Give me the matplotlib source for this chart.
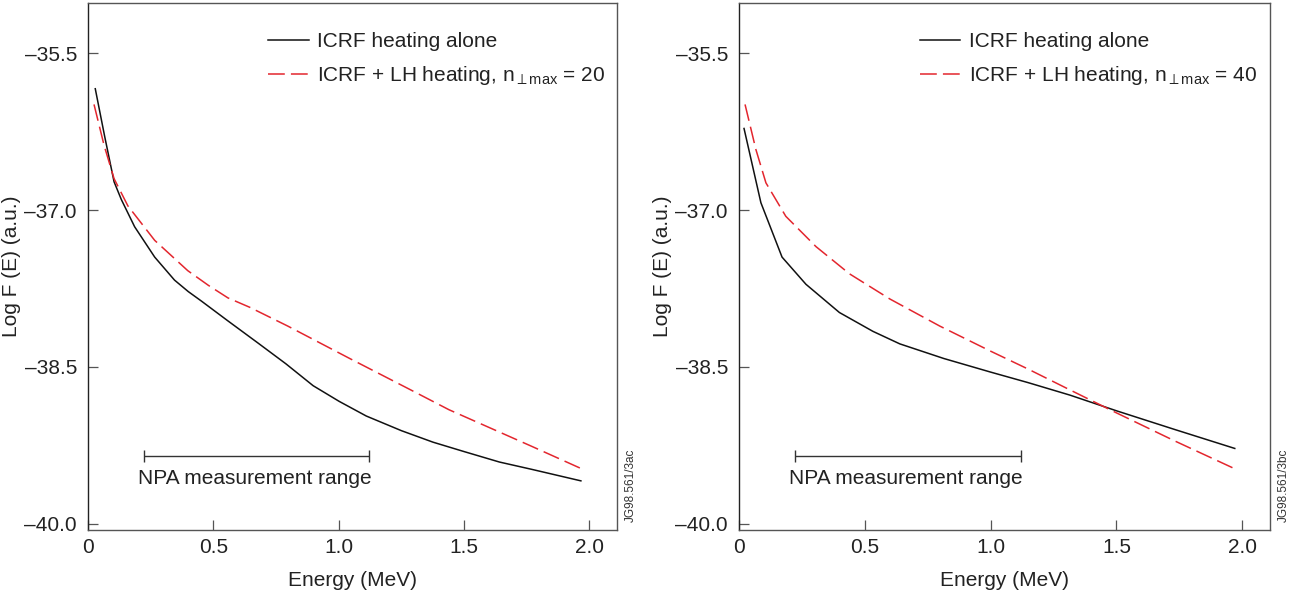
import numpy as np
import matplotlib
matplotlib.use("Agg")
import matplotlib.pyplot as plt

plt.rcParams['font.family'] = ['Liberation Sans', 'DejaVu Sans']
plt.rcParams['mathtext.fontset'] = 'custom'
plt.rcParams['mathtext.rm'] = 'Liberation Sans'
plt.rcParams['mathtext.it'] = 'Liberation Sans:italic'

# Panel (a): n_perp max = 20
E_icrf_a = [0.029, 0.066, 0.104, 0.133, 0.186, 0.266, 0.345, 0.40, 0.452, 0.558, 0.677, 0.789,
            0.898, 1.002, 1.11, 1.25, 1.376, 1.5, 1.641, 1.77, 1.966]
F_icrf_a = [-35.84, -36.29, -36.73, -36.90, -37.16, -37.45, -37.67, -37.78, -37.87, -38.06,
            -38.27, -38.47, -38.68, -38.83, -38.97, -39.11, -39.22, -39.31, -39.41, -39.48,
            -39.59]
E_lh_a = [0.024, 0.064, 0.104, 0.159, 0.266, 0.398, 0.48, 0.558, 0.645, 0.797, 1.044, 1.279,
          1.44, 1.77, 1.974]
F_lh_a = [-35.99, -36.38, -36.70, -36.96, -37.29, -37.58, -37.72, -37.84, -37.93, -38.11,
          -38.42, -38.71, -38.91, -39.26, -39.48]

# Panel (b): n_perp max = 40
E_icrf_b = [0.02, 0.087, 0.171, 0.266, 0.399, 0.532, 0.639, 0.814, 1.0, 1.148, 1.315,
            1.5, 1.733, 1.97]
F_icrf_b = [-36.22, -36.93, -37.45, -37.71, -37.98, -38.16, -38.28, -38.42, -38.55, -38.65,
            -38.77, -38.92, -39.10, -39.28]
E_lh_b = [0.024, 0.067, 0.107, 0.186, 0.306, 0.439, 0.599, 0.798, 1.0, 1.148, 1.315,
          1.5, 1.733, 1.975]
F_lh_b = [-35.99, -36.42, -36.74, -37.06, -37.35, -37.61, -37.85, -38.11, -38.35, -38.52,
          -38.72, -38.94, -39.21, -39.48]

npa_range = [0.222, 1.12]
npa_level = -39.35

x_ticks = [0, 0.5, 1.0, 1.5, 2.0]
x_ticklabels = ["0", "0.5", "1.0", "1.5", "2.0"]
y_ticks = [-35.5, -37.0, -38.5, -40.0]
y_ticklabels = ["\u201335.5", "\u201337.0", "\u201338.5", "\u201340.0"]

panels = [
    (E_icrf_a, F_icrf_a, E_lh_a, F_lh_a, "20", "JG98.561/3ac"),
    (E_icrf_b, F_icrf_b, E_lh_b, F_lh_b, "40", "JG98.561/3bc"),
]

red = '#e3262e'
fs = 15
fig = plt.figure(figsize=(13.05, 5.95), dpi=100)
lefts = [88 / 1305, 739 / 1305]
widths = [529 / 1305, 531 / 1305]

for i, (e1, f1, e2, f2, nmax, tag) in enumerate(panels):
    ax = fig.add_axes([lefts[i], 65 / 595, widths[i], 527 / 595])
    ax.plot(e1, f1, color='#111111', lw=1.1, label="ICRF heating alone")
    ax.plot(e2, f2, color=red, lw=1.1, dashes=(11, 4),
            label=r"ICRF + LH heating, n$_{{\perp}\mathrm{max}}$ = " + nmax)

    # NPA measurement range bar
    mid = np.mean(npa_range)
    ax.errorbar([mid], [npa_level], xerr=[[mid - npa_range[0]], [npa_range[1] - mid]],
                fmt='none', ecolor='#333333', elinewidth=1.0, capsize=4, capthick=1.0)
    ax.text(0.2, npa_level - 0.215, "NPA measurement range", fontsize=fs,
            ha='left', va='center', color='#222222')

    ax.set_xlim(0, 2.11)
    ax.set_ylim(-40.06, -35.02)
    ax.set_xticks(x_ticks)
    ax.set_xticklabels(x_ticklabels)
    ax.set_yticks(y_ticks)
    ax.set_yticklabels(y_ticklabels)
    ax.tick_params(direction='in', length=7, width=0.9, labelsize=fs, colors='#555555',
                   labelcolor='#222222')
    ax.tick_params(axis='x', pad=6)
    ax.tick_params(axis='y', pad=8)
    for s in ax.spines.values():
        s.set_color('#555555')
        s.set_linewidth(1.0)
    ax.spines['left'].set_color('#222222')
    ax.set_xlabel("Energy (MeV)", fontsize=fs, labelpad=10, color='#222222')
    ax.set_ylabel("Log F (E) (a.u.)", fontsize=fs, labelpad=2, color='#222222')

    leg = ax.legend(loc='upper left', bbox_to_anchor=(0.321, 0.965), frameon=False,
                    fontsize=fs, handlelength=1.95, handletextpad=0.4, labelspacing=0.65,
                    borderpad=0)
    for t in leg.get_texts():
        t.set_color('#222222')

    ax.text(1.014, 0.015, tag, transform=ax.transAxes, rotation=90, fontsize=8.5,
            ha='left', va='bottom', color='#333333')

fig.savefig("out.png", dpi=100)
